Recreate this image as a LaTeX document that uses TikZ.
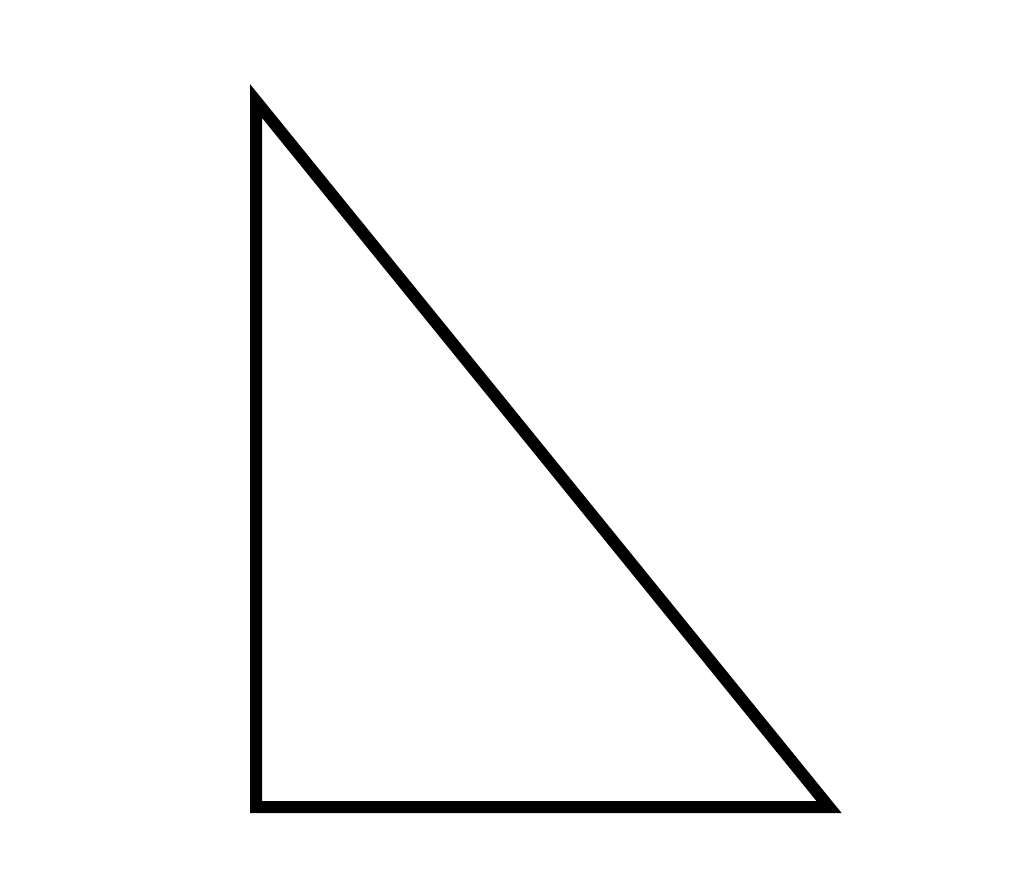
\documentclass[tikz,border=0pt]{standalone}
\usepackage{tikz}
\usetikzlibrary{calc}

\begin{document}
\begin{tikzpicture}[x=1pt,y=1pt]
		\useasboundingbox (0,0) rectangle (1024,883);
		%corners of the triangle
		\coordinate (apex) at (256,782);
		\coordinate (right angle) at (256,76);
		\coordinate (foot) at (829,76);
		\draw[line width=12pt, line join=miter] (apex) -- (right angle) -- (foot) -- cycle;
		\end{tikzpicture}
\end{document}
